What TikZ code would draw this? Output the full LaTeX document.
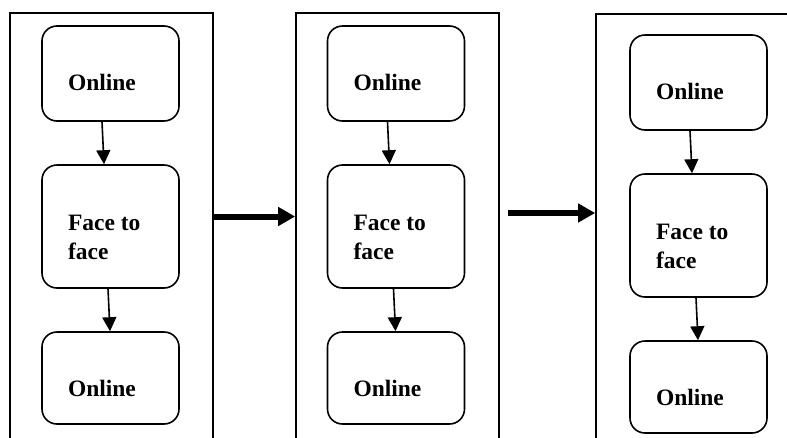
\documentclass[tikz,border=0pt]{standalone}
\usepackage{fontspec}
\setmainfont{Liberation Serif}
\usetikzlibrary{arrows.meta}

\begin{document}
\begin{tikzpicture}[x=1pt, y=-1pt, line width=1.6pt,
  frame/.style={draw, rectangle, inner sep=0pt,
                minimum width=203pt, minimum height=447pt},
  stage/.style={draw, rounded corners=15pt, inner sep=0pt, minimum width=137pt},
  lbl/.style={anchor=base west, inner sep=0pt, align=left,
              font=\fontsize{23.5}{29}\selectfont\bfseries},
  flow/.style={-{Triangle[length=14pt, width=14pt]}},
  bigflow/.style={line width=6pt, -{Triangle[length=17pt, width=18pt]}}]
  \useasboundingbox (0,0) rectangle (787,437);
  \clip (0,0) rectangle (787,437);
  % outer panels (open at the bottom and on the far right)
  \node[frame] (p1) at (111.5,236.5) {};
  \node[frame] (p2) at (397.5,236.5) {};
  \node[frame] (p3) at (697.5,237.5) {};
  \foreach \p/\cx/\dy in {1/110.5/0, 2/396/0, 3/698.5/9}{
    \node[stage, minimum height=95pt]  (onA\p) at (\cx,73.5+\dy) {};
    \node[stage, minimum height=123pt] (ftf\p) at (\cx,226.5+\dy) {};
    \node[stage, minimum height=92pt]  (onB\p) at (\cx,378+\dy) {};
    \node[lbl] (tA\p) at ([shift={(26,65)}]onA\p.north west) {Online};
    \node[lbl] (tF\p) at ([shift={(26,95)}]ftf\p.north west) {Face to\\face};
    \node[lbl] (tB\p) at ([shift={(26,65)}]onB\p.north west) {Online};
    \draw[flow] ([xshift=-8.5pt]onA\p.south) -- ([xshift=-6.5pt]ftf\p.north);
    \draw[flow] ([xshift=-2.5pt]ftf\p.south) -- ([xshift=-0.5pt]onB\p.north);}
  \draw[bigflow] ([yshift=20pt]p1.east) -- ([yshift=20pt]p2.west);
  \draw[bigflow] ([xshift=8pt, yshift=23.5pt]p2.east) -- ([yshift=24.5pt]p3.west);
\end{tikzpicture}
\end{document}
